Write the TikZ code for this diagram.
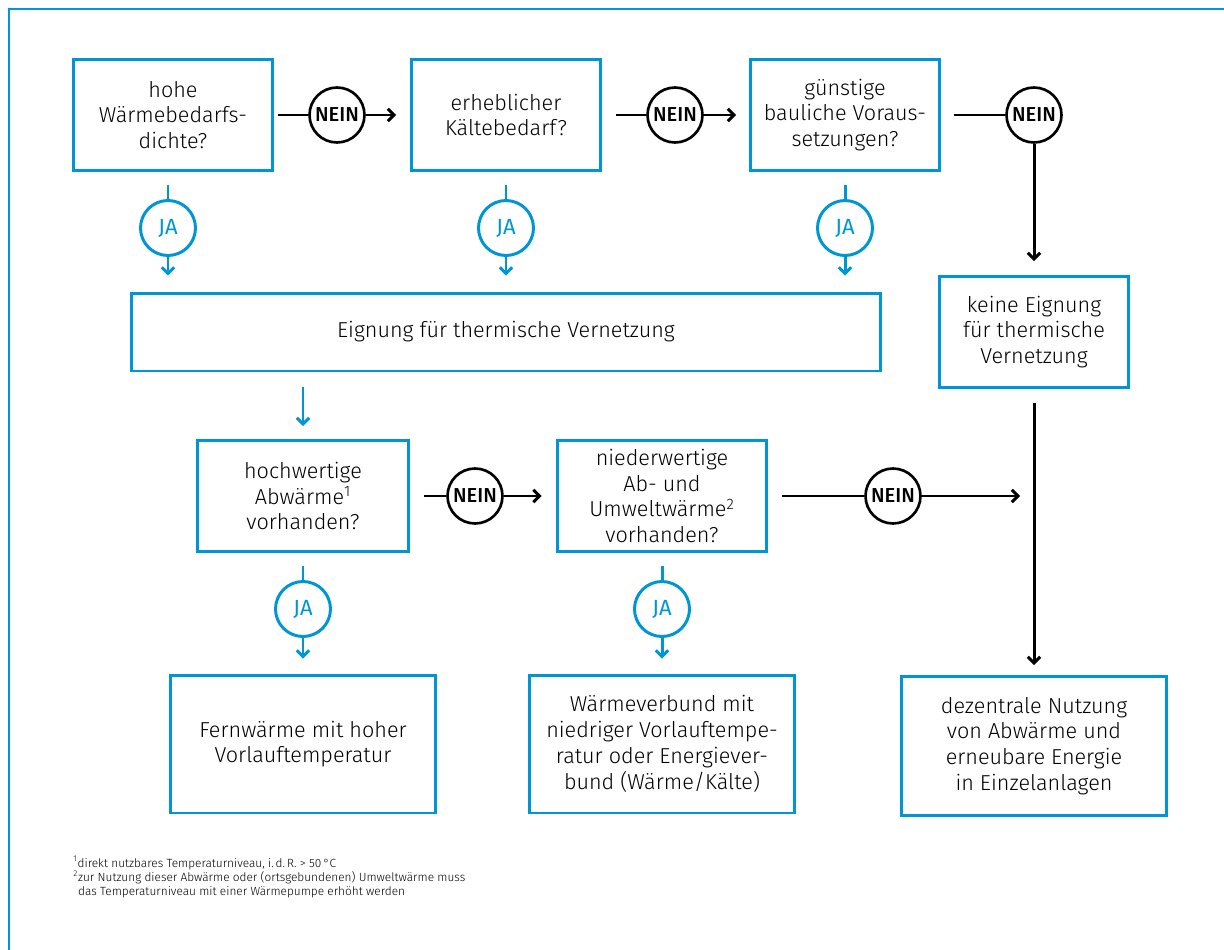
\documentclass[tikz,border=0pt]{standalone}
\usepackage{fontspec}
\setmainfont{Fira Sans Light}
\newfontfamily\neinfont{Fira Sans Medium}
\newfontfamily\jafont{Fira Sans}
\usetikzlibrary{arrows.meta}
\definecolor{ablue}{RGB}{0,150,214}
\tikzset{box/.style = {shape=rectangle,draw=ablue,line width=1.7pt,align=center,inner sep=0pt,minimum height=2.22cm}}
\tikzset{nein/.style = {shape=circle,draw,line width=1.5pt,minimum size=1.1cm,inner sep=0pt,font=\neinfont\fontsize{11.5}{12}\selectfont}}
\tikzset{ja/.style = {shape=circle,draw=ablue,text=ablue,line width=1.7pt,minimum size=1.1cm,inner sep=0pt,font=\jafont\fontsize{12.5}{13}\selectfont}}
\tikzset{line/.style = {line width=1.7pt}}
\tikzset{edge/.style = {line width=1.7pt,-{Straight Barb[length=3.5pt,width=7pt]}}}
\tikzset{bedge/.style = {edge,ablue}}

\begin{document}
\begin{tikzpicture}[x=0.02cm,y=-0.02cm,font=\fontsize{12.3}{14.7}\selectfont]
          \useasboundingbox (0,0) rectangle (1224,950);
          \draw[ablue,line width=1.7pt] (9,950) -- (9,9) -- (1224,9);

          % first row
          \node[box,minimum width=4cm] (b1) at (173,115) {hohe\\Wärmebedarfs-\\dichte?};
          \node[box,minimum width=3.78cm] (b2) at (506,115) {erheblicher\\Kältebedarf?};
          \node[box,minimum width=3.78cm] (b3) at (845,115) {günstige\\bauliche Voraus-\\setzungen?};
          \node[nein] (n1) at (337,115) {NEIN};
          \node[nein] (n2) at (675,115) {NEIN};
          \node[nein] (n3) at (1034,115) {NEIN};
          \node[ja] (j1) at (168,228) {JA};
          \node[ja] (j2) at (506,228) {JA};
          \node[ja] (j3) at (845,228) {JA};

          \node[box,minimum width=15cm,minimum height=1.56cm] (eig) at (506,332) {Eignung für thermische Vernetzung};
          \node[box,minimum width=3.78cm] (keine) at (1034,332) {keine Eignung\\für thermische\\Vernetzung};

          % second row
          \node[box,minimum width=4.22cm] (hoch) at (303,496) {hochwertige\\Abwärme\textsuperscript{1}\\vorhanden?};
          \node[box,minimum width=4.2cm] (nied) at (662,496) {niederwertige\\Ab- und\\Umweltwärme\textsuperscript{2}\\vorhanden?};
          \node[nein] (n4) at (475,496) {NEIN};
          \node[nein] (n5) at (893,496) {NEIN};
          \node[ja] (j4) at (303,609) {JA};
          \node[ja] (j5) at (662,609) {JA};

          \node[box,minimum width=5.32cm,minimum height=2.76cm] (fern) at (303,744) {Fernwärme mit hoher\\Vorlauftemperatur};
          \node[box,minimum width=5.3cm,minimum height=2.76cm] (verb) at (662,744) {Wärmeverbund mit\\niedriger Vorlauftempe-\\ratur oder Energiever-\\bund (Wärme/Kälte)};
          \node[box,minimum width=5.3cm,minimum height=2.78cm] (dez) at (1034,746) {dezentrale Nutzung\\von Abwärme und\\erneubare Energie\\in Einzelanlagen};

          \node[anchor=north west,align=left,inner sep=0pt,font=\fontsize{6.75}{8.2}\selectfont] (fn) at (73,856)
            {\textsuperscript{1}direkt nutzbares Temperaturniveau, i.\,d.\,R. > 50\,°C\\
             \textsuperscript{2}zur Nutzung dieser Abwärme oder (ortsgebundenen) Umweltwärme muss\\
             \hphantom{\textsuperscript{2}}das Temperaturniveau mit einer Wärmepumpe erhöht werden};

          \draw[line,shorten <=0.08cm] (b1) -- (n1);
          \draw[edge,shorten >=0.28cm] (n1) -- (b2);
          \draw[line,shorten <=0.28cm] (b2) -- (n2);
          \draw[edge,shorten >=0.26cm] (n2) -- (b3);
          \draw[line,shorten <=0.26cm] (b3) -- (n3);
          \draw[edge,shorten >=0.28cm] (n3) -- (keine);

          \draw[ablue,line,shorten <=0.26cm] (b1.south -| j1) -- (j1);
          \draw[bedge,shorten >=0.32cm] (j1) -- (eig.north -| j1);
          \draw[ablue,line,shorten <=0.26cm] (b2) -- (j2);
          \draw[bedge,shorten >=0.32cm] (j2) -- (eig.north -| j2);
          \draw[ablue,line,shorten <=0.26cm] (b3) -- (j3);
          \draw[bedge,shorten >=0.32cm] (j3) -- (eig.north -| j3);

          \draw[bedge,shorten <=0.3cm,shorten >=0.26cm] (eig.south -| hoch) -- (hoch);

          \draw[line,shorten <=0.28cm] (hoch) -- (n4);
          \draw[edge,shorten >=0.28cm] (n4) -- (nied);
          \draw[line,shorten <=0.28cm] (nied) -- (n5);
          \draw[edge,shorten >=0.28cm] (n5) -- (keine.south |- n5);
          \draw[edge,shorten <=0.28cm,shorten >=0.2cm] (keine) -- (dez);

          \draw[ablue,line,shorten <=0.26cm] (hoch) -- (j4);
          \draw[bedge,shorten >=0.3cm] (j4) -- (fern);
          \draw[ablue,line,shorten <=0.26cm] (nied) -- (j5);
          \draw[bedge,shorten >=0.3cm] (j5) -- (verb);
        \end{tikzpicture}
\end{document}
